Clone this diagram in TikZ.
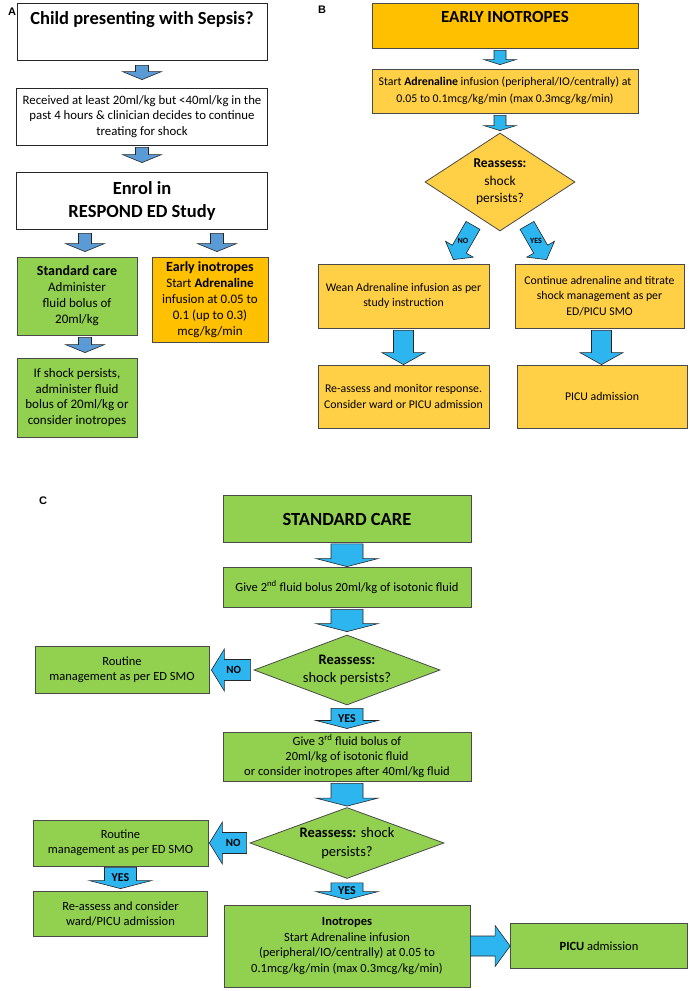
\documentclass[tikz,border=0pt]{standalone}
\usepackage{fontspec}
\setmainfont{Carlito}
\newfontfamily\labfont{Liberation Sans}
\usepackage{xcolor}
\usepackage{tikz}
\usetikzlibrary{shapes,arrows,positioning,calc}

\definecolor{boxgreen}{HTML}{92D050}
\definecolor{boxgold}{HTML}{FFC000}
\definecolor{boxyellow}{HTML}{FFD045}
\definecolor{arrowsteel}{HTML}{5B9BD5}
\definecolor{arrowsky}{HTML}{2DB5F0}
\definecolor{edgegrey}{HTML}{4A4A4A}

\tikzset{
  blk ga/.store in=\blkga, blk gb/.store in=\blkgb,
  blk sw/.store in=\blksw, blk hw/.store in=\blkhw, blk hl/.store in=\blkhl,
  blk ga=0pt, blk gb=0pt, blk sw=8pt, blk hw=16pt, blk hl=8pt,
  block/.style={draw=black!85, line width=0.6pt, line join=miter, to path={
      ($(\tikztostart)!\blkga!(\tikztotarget)$) coordinate (blks)
      ($(\tikztotarget)!\blkgb!(\tikztostart)$) coordinate (blkt)
      ($(blkt)!\blkhl!(blks)$) coordinate (blkb)
      ($(blks)!\blksw!90:(blkt)$) -- ($(blkb)!\blksw!90:(blkt)$)
      -- ($(blkb)!\blkhw!90:(blkt)$) -- (blkt)
      -- ($(blkb)!\blkhw!-90:(blkt)$) -- ($(blkb)!\blksw!-90:(blkt)$)
      -- ($(blks)!\blksw!-90:(blkt)$) -- cycle}},
  blockA/.style={block, fill=arrowsteel, blk sw=6.5pt, blk hw=19.5pt, blk hl=8pt},
  blockB/.style={block, fill=arrowsky, blk sw=6pt, blk hw=16pt, blk hl=5pt},
  blockBd/.style={block, fill=arrowsky, blk sw=8pt, blk hw=16pt, blk hl=12pt},
  blockBbig/.style={block, fill=arrowsky, blk sw=10pt, blk hw=21.5pt, blk hl=12pt},
  blockC/.style={block, fill=arrowsky, blk sw=16pt, blk hw=31pt, blk hl=8pt},
  blockCno/.style={block, fill=arrowsky, blk sw=10.5pt, blk hw=21pt, blk hl=13pt},
  blockCr/.style={block, fill=arrowsky, blk sw=10pt, blk hw=20.5pt, blk hl=15pt},
  boxw/.style={draw=black!85, line width=0.8pt, fill=white, rectangle, align=center, inner sep=2pt},
  boxg/.style={boxw, fill=boxgreen, draw=edgegrey},
  boxo/.style={boxw, fill=boxgold, draw=edgegrey},
  boxy/.style={boxw, fill=boxyellow, draw=edgegrey},
  decide/.style={diamond, draw=edgegrey, line width=0.8pt, align=center, inner sep=0pt},
  panel/.style={font=\labfont\bfseries\fontsize{11}{13}\selectfont, inner sep=0pt},
  markB/.style={font=\bfseries\fontsize{8}{9}\selectfont, inner sep=0pt},
  markC/.style={font=\bfseries\fontsize{12}{13}\selectfont, inner sep=0pt},
  markCn/.style={font=\bfseries\fontsize{11}{12}\selectfont, inner sep=0pt}
}

\begin{document}
\begin{tikzpicture}[x=1pt, y=-1pt, auto]
    \useasboundingbox (0,0) rectangle (690,991);
    \fill[white] (0,0) rectangle (690,991);

    % A
    \node[panel] (labA) at (12,12) {A};
    \node[boxw, minimum width=250pt, minimum height=57pt, inner sep=3pt, text height=18.8pt, text depth=32.2pt, font=\bfseries\fontsize{18.5}{21}\selectfont] (child) at (142,31.5) {Child presenting with Sepsis?};
    \node[boxw, below of=child, node distance=85pt, minimum width=251pt, minimum height=57pt, font=\fontsize{12.8}{15.5}\selectfont] (received) {Received at least 20ml/kg but <40ml/kg in the\\past 4 hours \& clinician decides to continue\\treating for shock};
    \node[boxw, below of=received, node distance=84pt, minimum width=251pt, minimum height=57pt, font=\bfseries\fontsize{18.5}{23}\selectfont] (enrol) {Enrol in\\RESPOND ED Study};
    \node[boxg, minimum width=120pt, minimum height=78pt, font=\fontsize{13}{16}\selectfont] (stdA) at (77,296) {{\fontsize{14}{16}\selectfont\bfseries Standard care}\\Administer\\fluid bolus of\\20ml/kg};
    \node[boxo, minimum width=116pt, minimum height=85pt, font=\fontsize{13}{16}\selectfont] (earlyA) at (210,299.5) {{\fontsize{14}{16}\selectfont\bfseries Early inotropes}\\Start \textbf{Adrenaline}\\infusion at 0.05 to\\0.1 (up to 0.3)\\mcg/kg/min};
    \node[boxg, below of=stdA, node distance=101.5pt, minimum width=120pt, minimum height=79pt, font=\fontsize{13}{15.7}\selectfont] (shockA) {If shock persists,\\administer fluid\\bolus of 20ml/kg or\\consider inotropes};

    \draw[blockA, blk ga=5pt, blk gb=8pt] (child.south) to (received.north);
    \draw[blockA, blk ga=2pt, blk gb=9pt] (received.south) to (enrol.north);
    \draw[blockA, blk ga=4pt, blk gb=5pt] ([xshift=8pt]stdA.north |- enrol.south) to ([xshift=8pt]stdA.north);
    \draw[blockA, blk ga=4pt, blk gb=5pt] ([xshift=7pt]earlyA.north |- enrol.south) to ([xshift=7pt]earlyA.north);
    \draw[blockA, blk ga=2pt, blk gb=5pt] ([xshift=8pt]stdA.south) to ([xshift=8pt]shockA.north);

    % B
    \node[panel] (labB) at (322,10) {B};
    \node[boxo, minimum width=266pt, minimum height=45pt, inner sep=3pt, text height=16.5pt, text depth=22.5pt, font=\bfseries\fontsize{17}{19}\selectfont] (early) at (505,25.5) {EARLY INOTROPES};
    \node[boxy, below of=early, node distance=65.5pt, minimum width=266pt, minimum height=44pt, font=\fontsize{11.8}{17}\selectfont] (start) {Start \textbf{Adrenaline} infusion (peripheral/IO/centrally) at\\0.05 to 0.1mcg/kg/min (max 0.3mcg/kg/min)};
    \node[decide, fill=boxyellow, aspect=1.5, minimum width=150pt, minimum height=98pt, font=\fontsize{13.5}{17.5}\selectfont] (reassB) at (500,182) {\textbf{Reassess:}\\shock\\persists?};
    \node[boxy, minimum width=171pt, minimum height=64pt, font=\fontsize{11.8}{15.5}\selectfont] (wean) at (403.5,296) {Wean Adrenaline infusion as per\\study instruction};
    \node[boxy, minimum width=169pt, minimum height=64pt, font=\fontsize{11.8}{15.5}\selectfont] (titrate) at (599.5,296) {Continue adrenaline and titrate\\shock management as per\\ED/PICU SMO};
    \node[boxy, below of=wean, node distance=100.5pt, minimum width=171pt, minimum height=63pt, font=\fontsize{11.8}{16}\selectfont] (monitor) {Re-assess and monitor response.\\Consider ward or PICU admission};
    \node[boxy, minimum width=170pt, minimum height=63pt, font=\fontsize{11.8}{16}\selectfont] (picuB) at (602,396.5) {PICU admission};

    \draw[blockB, blk ga=2pt, blk gb=4pt] (early.south -| reassB.north) to (start.north -| reassB.north);
    \draw[blockB, blk ga=2pt, blk gb=2pt] (start.south -| reassB.north) to (reassB.north);
    \draw[blockBd] ($(reassB.south)+(-27,-6)$) to ($(wean.north east)+(-36,-4)$);
    \draw[blockBd] ($(reassB.south)+(27,-6)$) to ($(titrate.north west)+(32,-4)$);
    \node[markB] (noB) at ($(reassB.south)+(-37,10)$) {NO};
    \node[markB] (yesB) at ($(reassB.south)+(36,10)$) {YES};
    \draw[blockBbig, blk ga=2pt] (wean.south) to (wean.south |- monitor.north);
    \draw[blockBbig, blk ga=2pt] ([xshift=2pt]titrate.south) to ([xshift=2pt]titrate.south |- picuB.north);

    % C
    \node[panel] (labC) at (43,501) {C};
    \node[boxg, minimum width=248pt, minimum height=47pt, font=\bfseries\fontsize{18.5}{20}\selectfont] (stdC) at (347,519) {STANDARD CARE};
    \node[boxg, below of=stdC, node distance=68pt, minimum width=248pt, minimum height=40pt, font=\fontsize{12.5}{15}\selectfont] (bolus2) {Give 2\textsuperscript{nd} fluid bolus 20ml/kg of isotonic fluid};
    \node[decide, fill=boxgreen, below of=bolus2, node distance=83pt, aspect=2.66, minimum width=186pt, minimum height=70pt, font=\fontsize{14.5}{18.7}\selectfont] (reassC1) {\textbf{Reassess:}\\shock persists?};
    \node[boxg, left of=reassC1, node distance=225pt, minimum width=174pt, minimum height=47pt, font=\fontsize{12.5}{14.7}\selectfont] (routine1) {Routine\\management as per ED SMO};
    \node[boxg, below of=reassC1, node distance=86.4pt, minimum width=248pt, minimum height=49pt, font=\fontsize{12.5}{15.3}\selectfont] (bolus3) {Give 3\textsuperscript{rd} fluid bolus of\\20ml/kg of isotonic fluid\\or consider inotropes after 40ml/kg fluid};
    \node[decide, fill=boxgreen, below of=bolus3, node distance=86.6pt, aspect=2.73, minimum width=194pt, minimum height=71pt, font=\fontsize{14.5}{19}\selectfont] (reassC2) {\textbf{Reassess:} shock\\persists?};
    \node[boxg, left of=reassC2, node distance=226.5pt, minimum width=175pt, minimum height=46pt, font=\fontsize{12.5}{14.7}\selectfont] (routine2) {Routine\\management as per ED SMO};
    \node[boxg, below of=routine2, node distance=70.5pt, minimum width=174pt, minimum height=45pt, font=\fontsize{12.5}{15}\selectfont] (ward) {Re-assess and consider\\ward/PICU admission};
    \node[boxg, below of=reassC2, node distance=103pt, minimum width=246pt, minimum height=82pt, font=\fontsize{12.5}{15.7}\selectfont] (inotropes) {\textbf{Inotropes}\\Start Adrenaline infusion\\(peripheral/IO/centrally) at 0.05 to\\0.1mcg/kg/min (max 0.3mcg/kg/min)};
    \node[boxg, right of=inotropes, node distance=252pt, minimum width=177pt, minimum height=45pt, font=\fontsize{12.5}{15}\selectfont] (picuC) {\textbf{PICU} admission};

    \draw[blockC, blk ga=1pt] (stdC.south) to (bolus2.north);
    \draw[blockC, blk ga=2pt, blk gb=3pt] (bolus2.south) to (reassC1.north);
    \draw[blockC, blk ga=3pt, blk gb=3pt] (reassC1.south) to (bolus3.north);
    \draw[blockC, blk ga=2pt, blk gb=1pt] (bolus3.south) to (reassC2.north);
    \draw[blockC, blk ga=4pt, blk gb=5pt] (reassC2.south) to (inotropes.north);
    \draw[blockC, blk ga=1pt, blk gb=2pt] (routine2.south) to (ward.north);
    \draw[blockCno, blk ga=3pt, blk gb=2pt] (reassC1.west) to (reassC1.west -| routine1.east);
    \draw[blockCno, blk ga=3pt, blk gb=1pt] (reassC2.west) to (reassC2.west -| routine2.east);
    \draw[blockCr] (inotropes.east) to (inotropes.east -| picuC.west);
    \node[markC] (yesC1) at ($(reassC1.south)!0.5!(bolus3.north)$) {YES};
    \node[markC] (yesC2) at ($(reassC2.south)!0.45!(inotropes.north)$) {YES};
    \node[markC] (yesC3) at ($(routine2.south)!0.45!(ward.north)$) {YES};
    \node[markCn] (noC1) at ($(reassC1.west)!0.45!(routine1.east)$) {NO};
    \node[markCn] (noC2) at ($(reassC2.west)!0.4!(routine2.east)$) {NO};
\end{tikzpicture}
\end{document}
